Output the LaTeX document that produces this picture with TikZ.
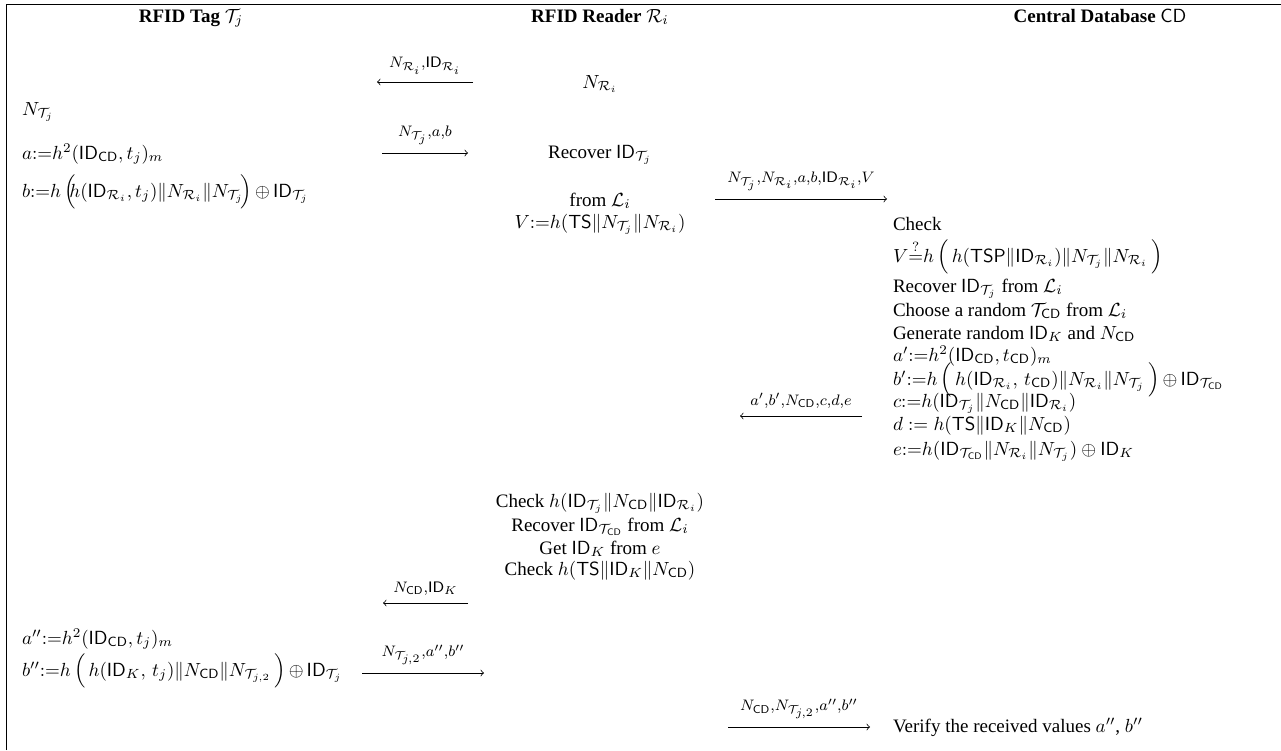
\documentclass[tikz,border=0pt]{standalone}
\usepackage[no-math]{fontspec}
\setmainfont{Liberation Serif}
\begin{document}
\begin{tikzpicture}[x=0.526pt,y=-0.526pt,
  txt/.style={inner sep=0pt,outer sep=0pt},
  lft/.style={txt,anchor=base west},
  mid/.style={txt,anchor=base},
  head/.style={txt,anchor=base},
  msg/.style={draw,line width=0.4pt,->},
  lbl/.style={inner sep=0pt,above=4pt,font=\fontsize{11.5}{13}\selectfont}]
\useasboundingbox (0,0) rectangle (1281,750);
\draw[line width=0.5pt] (6.5,750) -- (6.5,4) -- (1281,4);
% headings
\node[head] (h1) at (191,22) {\textbf{RFID Tag} $\mathcal{T}_j$};
\node[head] (h2) at (600,22) {\textbf{RFID Reader} $\mathcal{R}_i$};
\node[head] (h3) at (1100,22) {\textbf{Central Database} $\mathsf{CD}$};
% tag column
\node[lft] (t1) at (22,115) {$N_{\mathcal{T}_j}$};
\node[lft] (t2) at (22,159) {$a{:=}h^2(\mathsf{ID}_{\mathsf{CD}},t_j)_m$};
\node[lft] (t3) at (22,197) {$b{:=}h\,\Big(\!\!h(\mathsf{ID}_{\mathcal{R}_i},t_j)\|N_{\mathcal{R}_i}\|N_{\mathcal{T}_j}\!\Big)\,{\oplus}\,\mathsf{ID}_{\mathcal{T}_j}$};
\node[lft] (t4) at (22,644) {$a''{:=}h^2(\mathsf{ID}_{\mathsf{CD}},t_j)_m$};
\node[lft] (t5) at (22,676) {$b''{:=}h\,\Big(\,h(\mathsf{ID}_K,\,t_j)\|N_{\mathsf{CD}}\|N_{\mathcal{T}_{j,2}}\,\Big)\,{\oplus}\,\mathsf{ID}_{\mathcal{T}_j}$};
% reader column
\node[mid] (r1) at (600,88) {$N_{\mathcal{R}_i}$};
\node[mid] (r2) at (600,158) {Recover $\mathsf{ID}_{\mathcal{T}_j}$};
\node[mid] (r3) at (600,206) {from $\mathcal{L}_i$};
\node[mid] (r4) at (600,228) {$V{:=}h(\mathsf{TS}\|N_{\mathcal{T}_j}\|N_{\mathcal{R}_i})$};
\node[mid] (r5) at (600,507) {Check $h(\mathsf{ID}_{\mathcal{T}_j}\|N_{\mathsf{CD}}\|\mathsf{ID}_{\mathcal{R}_i})$};
\node[mid] (r6) at (600,531) {Recover $\mathsf{ID}_{\mathcal{T}_{\mathsf{CD}}}$ from $\mathcal{L}_i$};
\node[mid] (r7) at (600,554) {Get $\mathsf{ID}_K$ from $e$};
\node[mid] (r8) at (600,575) {Check $h(\mathsf{TS}\|\mathsf{ID}_K\|N_{\mathsf{CD}})$};
% database column
\node[lft] (c1) at (893,230) {Check};
\node[lft] (c2) at (893,262) {$V{\stackrel{?}{=}}h\,\Big(\,h(\mathsf{TSP}\|\mathsf{ID}_{\mathcal{R}_i})\|N_{\mathcal{T}_j}\|N_{\mathcal{R}_i}\,\Big)$};
\node[lft] (c3) at (893,292) {Recover $\mathsf{ID}_{\mathcal{T}_j}$ from $\mathcal{L}_i$};
\node[lft] (c4) at (893,316) {Choose a random $\mathcal{T}_{\mathsf{CD}}$ from $\mathcal{L}_i$};
\node[lft] (c5) at (893,339) {Generate random $\mathsf{ID}_K$ and $N_{\mathsf{CD}}$};
\node[lft] (c6) at (893,361) {$a'{:=}h^2(\mathsf{ID}_{\mathsf{CD}},t_{\mathsf{CD}})_m$};
\node[lft] (c7) at (893,385) {$b'{:=}h\,\Big(\,h(\mathsf{ID}_{\mathcal{R}_i},\,t_{\mathsf{CD}})\|N_{\mathcal{R}_i}\|N_{\mathcal{T}_j}\,\Big)\,{\oplus}\,\mathsf{ID}_{\mathcal{T}_{\mathsf{CD}}}$};
\node[lft] (c8) at (893,407) {$c{:=}h(\mathsf{ID}_{\mathcal{T}_j}\|N_{\mathsf{CD}}\|\mathsf{ID}_{\mathcal{R}_i})$};
\node[lft] (c9) at (893,430) {$d := h(\mathsf{TS}\|\mathsf{ID}_K\|N_{\mathsf{CD}})$};
\node[lft] (c10) at (893,455) {$e{:=}h(\mathsf{ID}_{\mathcal{T}_{\mathsf{CD}}}\|N_{\mathcal{R}_i}\|N_{\mathcal{T}_j})\oplus\mathsf{ID}_K$};
\node[lft] (c11) at (893,732) {Verify the received values $a''$, $b''$};
% message endpoints
\coordinate (m1s) at (473,82);  \coordinate (m1e) at (377,82);
\coordinate (m2s) at (382,153); \coordinate (m2e) at (468,153);
\coordinate (m3s) at (715,199); \coordinate (m3e) at (887,199);
\coordinate (m4s) at (862,416); \coordinate (m4e) at (740,416);
\coordinate (m5s) at (468,603); \coordinate (m5e) at (383,603);
\coordinate (m6s) at (362,673); \coordinate (m6e) at (484,673);
\coordinate (m7s) at (728,727); \coordinate (m7e) at (870,727);
\draw[msg] (m1s) -- node[lbl] {$\scriptstyle N_{\mathcal{R}_i},\mathsf{ID}_{\mathcal{R}_i}$} (m1e);
\draw[msg] (m2s) -- node[lbl] {$\scriptstyle N_{\mathcal{T}_j},a,b$} (m2e);
\draw[msg] (m3s) -- node[lbl] {$\scriptstyle N_{\mathcal{T}_j},N_{\mathcal{R}_i},a,b,\mathsf{ID}_{\mathcal{R}_i},V$} (m3e);
\draw[msg] (m4s) -- node[lbl] {$\scriptstyle a',b',N_{\mathsf{CD}},c,d,e$} (m4e);
\draw[msg] (m5s) -- node[lbl] {$\scriptstyle N_{\mathsf{CD}},\mathsf{ID}_K$} (m5e);
\draw[msg] (m6s) -- node[lbl] {$\scriptstyle N_{\mathcal{T}_{j,2}},a'',b''$} (m6e);
\draw[msg] (m7s) -- node[lbl] {$\scriptstyle N_{\mathsf{CD}},N_{\mathcal{T}_{j,2}},a'',b''$} (m7e);
\end{tikzpicture}
\end{document}
